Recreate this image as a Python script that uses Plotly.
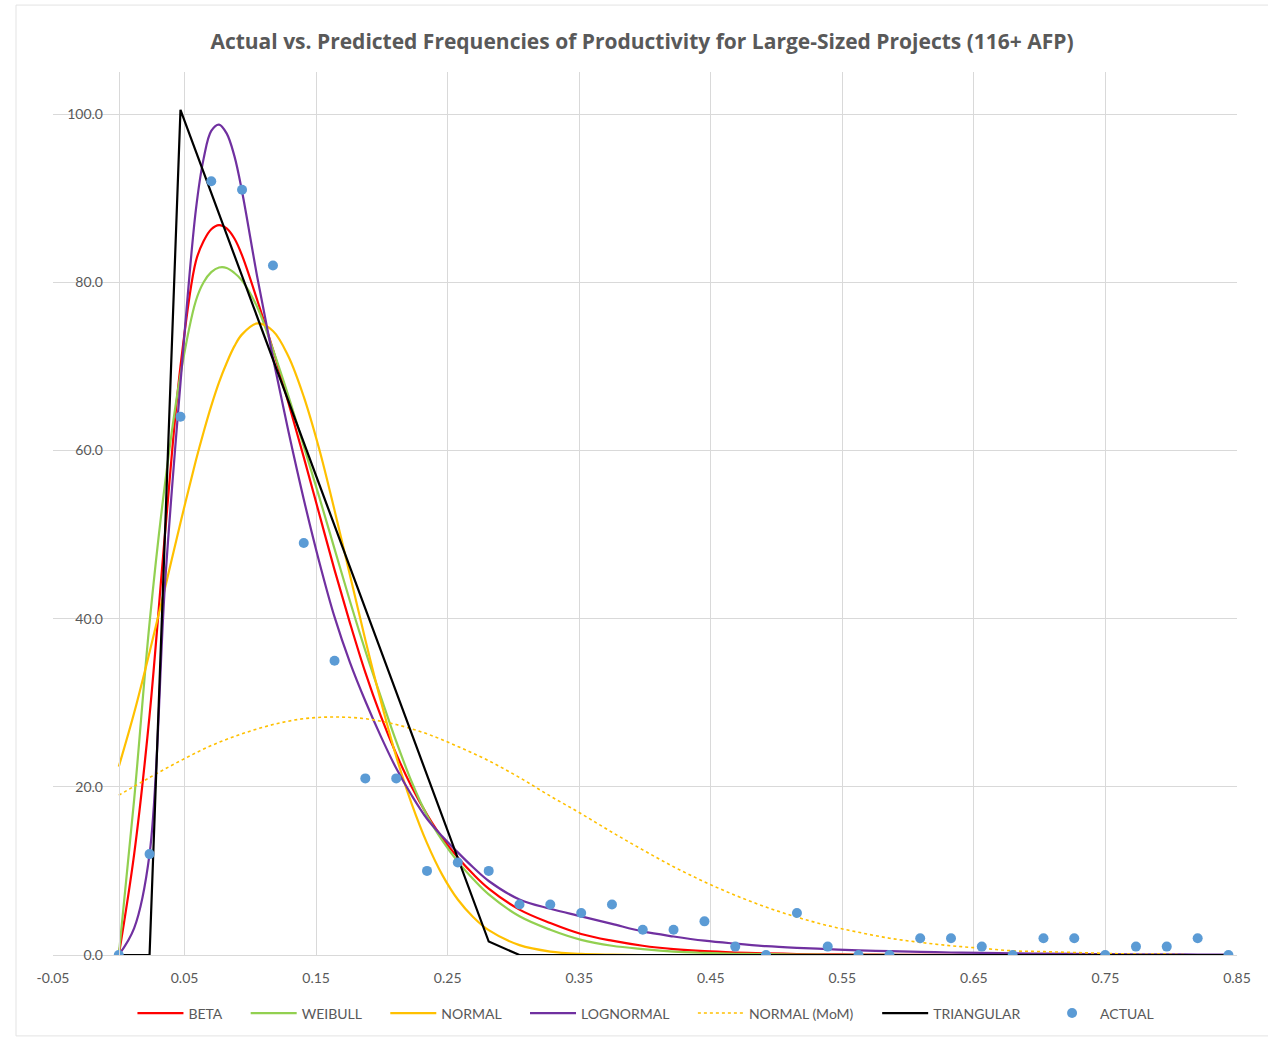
import plotly.graph_objects as go

# bin positions of the observed frequencies (also used by the triangular and MoM series)
x_grid = [0.0000, 0.0234, 0.0469, 0.0703, 0.0937, 0.1172, 0.1406, 0.1640, 0.1874, 0.2109,
          0.2343, 0.2577, 0.2812, 0.3046, 0.3280, 0.3515, 0.3749, 0.3983, 0.4217, 0.4452,
          0.4686, 0.4920, 0.5155, 0.5389, 0.5623, 0.5858, 0.6092, 0.6326, 0.6560, 0.6795,
          0.7029, 0.7263, 0.7498, 0.7732, 0.7966, 0.8201, 0.8435]

# positions where the fitted curves were read (finer steps near the peak)
x_curve = [0.0000, 0.0117, 0.0234, 0.0351, 0.0469, 0.0586, 0.0645, 0.0703, 0.0762, 0.0820,
           0.0879, 0.0937, 0.1054, 0.1172, 0.1289, 0.1406, 0.1523, 0.1640, 0.1757, 0.1874,
           0.1992, 0.2109, 0.2226, 0.2343, 0.2460, 0.2577, 0.2695, 0.2812,
           0.3046, 0.3280, 0.3515, 0.3749, 0.3983, 0.4217, 0.4452, 0.4686, 0.4920, 0.5155,
           0.5389, 0.5623, 0.5858, 0.6092, 0.6326, 0.6560, 0.6795, 0.7029, 0.7263, 0.7498,
           0.7732, 0.7966, 0.8201, 0.8435]

actual = [0, 12, 64, 92, 91, 82, 49, 35, 21, 21, 10, 11, 10, 6, 6, 5, 6, 3, 3, 4,
          1, 0, 5, 1, 0, 0, 2, 2, 1, 0, 2, 2, 0, 1, 1, 2, 0]

beta = [0, 12, 28.5, 50, 70, 82.5, 84.9, 86.3, 86.8, 86.4, 85.2, 83.2, 77.8, 72, 65.7,
        59.2, 52.5, 45.8, 39.5, 33.6, 28.4, 23.9, 20.0, 16.7, 13.9, 11.6, 9.6, 7.9,
        5.4, 3.8, 2.5, 1.7, 1.1, 0.7, 0.45, 0.3, 0.2, 0.12, 0.08, 0.05, 0.03, 0.02, 0.01,
        0, 0, 0, 0, 0, 0, 0, 0, 0]

weibull = [0, 18.5, 39.5, 56, 69, 77.8, 80.0, 81.2, 81.75, 81.7, 81.1, 80.2, 77, 72,
           66.5, 60.5, 54.5, 48.3, 42.1, 36.2, 30.7, 25.4, 20.6, 16.6, 13.6, 11.1, 9.0, 7.2,
           4.6, 3.0, 1.8, 1.1, 0.7, 0.4, 0.25, 0.15, 0.1, 0.05, 0.03, 0.02, 0.01,
           0, 0, 0, 0, 0, 0, 0, 0, 0, 0, 0]

normal = [22.4, 28.8, 36.0, 43.6, 51.4, 58.8, 62.2, 65.3, 68.1, 70.4, 72.4, 73.8, 75.1,
          74.2, 71.2, 66.4, 60.2, 52.9, 45.2, 37.5, 30.2, 23.6, 18.0, 13.3, 9.5, 6.6, 4.5,
          2.95,
          1.17, 0.41, 0.13, 0.04, 0, 0, 0, 0, 0, 0, 0, 0, 0, 0, 0, 0, 0, 0, 0, 0,
          0, 0, 0, 0]

lognormal = [0, 3.2, 12, 44, 68, 88.6, 94.7, 98.0, 98.75, 97.7, 95.0, 90.8, 80.5, 71,
             62.3, 54.2, 46.8, 40.2, 34.8, 30.2, 26.0, 22.2, 19.0, 16.2, 14.1, 12.2, 10.4,
             8.8,
             6.6, 5.5, 4.6, 3.7, 2.8, 2.2, 1.7, 1.35, 1.05, 0.85, 0.7, 0.55, 0.45, 0.37,
             0.3, 0.25, 0.2, 0.16, 0.13, 0.1, 0.08, 0.07, 0.06, 0.05]

normal_mom = [19.0, 21.1, 23.1, 24.9, 26.3, 27.4, 28.1, 28.3, 28.1, 27.4, 26.3, 24.8, 23.1,
              21.1, 18.9, 16.8, 14.6, 12.5, 10.5, 8.7, 7.1, 5.7, 4.5, 3.5, 2.7, 2.0, 1.5,
              1.1, 0.8, 0.5, 0.4, 0.3, 0.2, 0.1, 0.1, 0.0, 0.0]

triangular = [0, 0, 100.5, 90.6, 80.7, 70.8, 60.9, 51.0, 41.2, 31.3, 21.4, 11.5, 1.6, 0,
              0, 0, 0, 0, 0, 0, 0, 0, 0, 0, 0, 0, 0, 0, 0, 0,
              0, 0, 0, 0, 0, 0, 0]

x_ticks = [-0.05, 0.05, 0.15, 0.25, 0.35, 0.45, 0.55, 0.65, 0.75, 0.85]
x_tick_labels = ["-0.05", "0.05", "0.15", "0.25", "0.35", "0.45", "0.55", "0.65", "0.75", "0.85"]
y_ticks = [0, 20, 40, 60, 80, 100]

TITLE = "Actual vs. Predicted Frequencies of Productivity for Large-Sized Projects (116+ AFP)"
FONT = "Lato"
GRAY = "#595959"
GRID = "#D9D9D9"
PAD = "\u00a0" * 5 + "\u200a"

fig = go.Figure()

curves = [
    ("BETA", x_curve, beta, "#FF0000", "solid", 2.2, "spline"),
    ("WEIBULL", x_curve, weibull, "#92D050", "solid", 2.2, "spline"),
    ("NORMAL", x_curve, normal, "#FFC000", "solid", 2.2, "spline"),
    ("LOGNORMAL", x_curve, lognormal, "#7030A0", "solid", 2.2, "spline"),
    ("NORMAL (MoM)", x_grid, normal_mom, "#FFC000", "dot", 1.6, "spline"),
    ("TRIANGULAR", x_grid, triangular, "#000000", "solid", 2.2, "linear"),
]
for name, xs, ys, color, dash, w, shape in curves:
    fig.add_trace(go.Scatter(
        x=xs, y=ys, name=name + PAD, mode="lines",
        line=dict(color=color, width=w, dash=dash, shape=shape, smoothing=1.0),
    ))

fig.add_trace(go.Scatter(
    x=x_grid, y=actual, name="ACTUAL", mode="markers",
    marker=dict(color="#5B9BD5", size=10, line=dict(width=0)),
))

# faint chart-area frame (left, top and bottom edges)
frame = dict(type="line", xref="paper", yref="paper", line=dict(color="#E3E3E3", width=1),
             layer="below")
shapes = [
    dict(frame, x0=-37 / 1184, x1=-37 / 1184, y0=-81 / 884, y1=951 / 884),
    dict(frame, x0=-37 / 1184, x1=1215 / 1184, y0=951 / 884, y1=951 / 884),
    dict(frame, x0=-37 / 1184, x1=1215 / 1184, y0=-81 / 884, y1=-81 / 884),
]

fig.update_layout(
    width=1268, height=1040,
    margin=dict(l=53, r=31, t=72, b=84),
    paper_bgcolor="white", plot_bgcolor="white",
    font=dict(family=FONT, color=GRAY, size=14),
    title=dict(text=TITLE, x=642 / 1268, xanchor="center", y=1 - 42 / 1040, yanchor="middle",
               xref="container", yref="container",
               font=dict(family="Open Sans", size=21, color=GRAY, weight="bold")),
    showlegend=True,
    legend=dict(orientation="h", x=0.5008, xanchor="center", y=-0.065, yanchor="middle",
                font=dict(size=14, color=GRAY, family=FONT), itemwidth=46,
                traceorder="normal"),
    shapes=shapes,
    xaxis=dict(range=[-0.05, 0.85], tickvals=x_ticks, ticktext=x_tick_labels,
               showgrid=True, gridcolor=GRID, gridwidth=1, zeroline=False,
               showline=True, linecolor=GRID, linewidth=1,
               ticks="", tickfont=dict(size=14, color=GRAY), ticklabelstandoff=10),
    yaxis=dict(range=[0, 105], tickvals=y_ticks, tickformat=".1f",
               anchor="free", position=0.05 / 0.9,
               showgrid=True, gridcolor=GRID, gridwidth=1, zeroline=False,
               showline=True, linecolor=GRID, linewidth=1,
               ticks="", tickfont=dict(size=14, color=GRAY), ticklabelstandoff=13),
)

fig.write_html("out.html")
